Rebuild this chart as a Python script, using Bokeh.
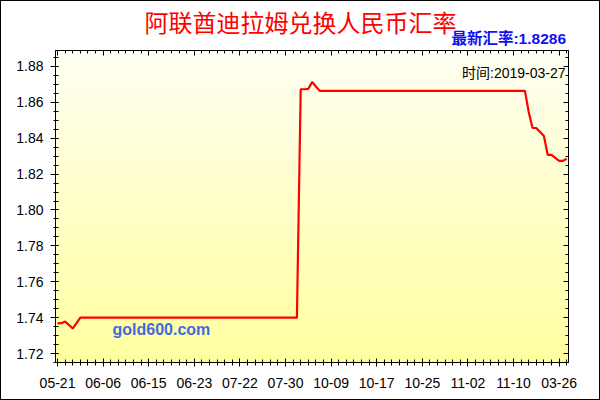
import numpy as np
from bokeh.plotting import figure
from bokeh.layouts import column
from bokeh.models import (FixedTicker, SingleIntervalTicker, LinearAxis, Label, Range1d,
                          PrintfTickFormatter)
from bokeh.embed import file_html
from bokeh.resources import INLINE
from bokeh.core.properties import value

# ---- data ----
tick_labels = ["05-21", "06-06", "06-15", "06-23", "07-22", "07-30",
               "10-09", "10-17", "10-25", "11-02", "11-10", "03-26"]
tick_index = [0, 12, 24, 36, 48, 60, 72, 84, 96, 108, 120, 132]

rates = [
    1.7368, 1.7369, 1.7378, 1.7360, 1.7339, 1.7370,
    1.7400, 1.7400, 1.7400, 1.7400, 1.7400, 1.7400, 1.7400, 1.7400, 1.7400, 1.7400,
    1.7400, 1.7400, 1.7400, 1.7400, 1.7400, 1.7400, 1.7400, 1.7400, 1.7400, 1.7400,
    1.7400, 1.7400, 1.7400, 1.7400, 1.7400, 1.7400, 1.7400, 1.7400, 1.7400, 1.7400,
    1.7400, 1.7400, 1.7400, 1.7400, 1.7400, 1.7400, 1.7400, 1.7400, 1.7400, 1.7400,
    1.7400, 1.7400, 1.7400, 1.7400, 1.7400, 1.7400, 1.7400, 1.7400, 1.7400, 1.7400,
    1.7400, 1.7400, 1.7400, 1.7400, 1.7400, 1.7400, 1.7400, 1.7400,
    1.8673, 1.8673, 1.8675, 1.8713, 1.8688,
    1.8664, 1.8664, 1.8664, 1.8664, 1.8664, 1.8664, 1.8664, 1.8664, 1.8664, 1.8664,
    1.8664, 1.8664, 1.8664, 1.8664, 1.8664, 1.8664, 1.8664, 1.8664, 1.8664, 1.8664,
    1.8664, 1.8664, 1.8664, 1.8664, 1.8664, 1.8664, 1.8664, 1.8664, 1.8664, 1.8664,
    1.8664, 1.8664, 1.8664, 1.8664, 1.8664, 1.8664, 1.8664, 1.8664, 1.8664, 1.8664,
    1.8664, 1.8664, 1.8664, 1.8664, 1.8664, 1.8664, 1.8664, 1.8664, 1.8664, 1.8664,
    1.8664, 1.8664, 1.8664, 1.8664, 1.8664,
    1.8546, 1.8457, 1.8457, 1.8435, 1.8413, 1.8307, 1.8307, 1.8290, 1.8274, 1.8274,
    1.8286,
]
idx = list(range(len(rates)))

title_text = "阿联酋迪拉姆兑换人民币汇率"
latest_text = "最新汇率:1.8286"
time_text = "时间:2019-03-27"
watermark = "gold600.com"

cjk = "'Liberation Sans', 'Noto Sans CJK SC'"

# ---- header (title area); its frame lines up with the chart frame ----
head = figure(frame_width=513, frame_height=49,
              min_border_left=54, min_border_right=31, min_border_top=0, min_border_bottom=0,
              x_range=Range1d(55, 568), y_range=Range1d(0, 49),
              output_backend="svg", toolbar_location=None,
              x_axis_type=None, y_axis_type=None)
head.outline_line_color = None
head.background_fill_color = "white"
head.border_fill_color = "white"
head.xgrid.visible = False
head.ygrid.visible = False
head.text(x=[300], y=[29], text=[title_text], text_align="center", text_baseline="middle",
          text_color="#FF0000", text_font=value("Noto Sans CJK SC"), text_font_size="24px")
head.text(x=[565.5], y=[11.7], text=[latest_text], text_align="right", text_baseline="middle",
          text_color="#1010F0", text_font=value(cjk), text_font_size="15.5px",
          text_font_style="bold")

# ---- main chart ----
x0, x1 = -0.53, 134.47
y0, y1 = 1.7150, 1.8889
p = figure(frame_width=513, frame_height=312,
           min_border_left=54, min_border_top=0, min_border_right=31, min_border_bottom=37,
           x_range=Range1d(x0, x1), y_range=Range1d(y0, y1),
           output_backend="svg", toolbar_location=None,
           x_axis_type=None, y_axis_type=None)
p.background_fill_color = "#FFFFF0"
p.border_fill_color = "white"
p.outline_line_color = "black"

# background vertical gradient
n = 100
t = np.linspace(0.0, 1.0, n)  # 0 bottom -> 1 top
img = np.zeros((n, 1), dtype=np.uint32)
view = img.view(dtype=np.uint8).reshape((n, 1, 4))
view[:, 0, 0] = 255
view[:, 0, 1] = 255
view[:, 0, 2] = (160 + (244 - 160) * t).astype(np.uint8)
view[:, 0, 3] = 255
p.image_rgba(image=[img], x=x0, y=y0, dw=x1 - x0, dh=y1 - y0, level="image")

label_font = "Liberation Sans"

xticker = FixedTicker(ticks=tick_index, minor_ticks=list(range(0, len(rates), 2)))
yticker = SingleIntervalTicker(interval=0.02, num_minor_ticks=4)

xb = LinearAxis(ticker=xticker)
xb.major_label_overrides = {i: s for i, s in zip(tick_index, tick_labels)}
xb.major_tick_in = 4
xb.major_tick_out = 4
xb.minor_tick_in = 3
xb.minor_tick_out = 3
xb.major_label_standoff = 11
p.add_layout(xb, "below")

yl = LinearAxis(ticker=yticker, formatter=PrintfTickFormatter(format="%.2f"))
yl.major_tick_in = 3
yl.major_tick_out = 5
yl.minor_tick_in = 3
yl.minor_tick_out = 2
yl.major_label_standoff = 7
p.add_layout(yl, "left")

xt = LinearAxis(ticker=xticker)
xt.major_tick_in = 5
xt.major_tick_out = 0
xt.minor_tick_in = 3
xt.minor_tick_out = 0
p.add_layout(xt, "above")

yr = LinearAxis(ticker=yticker)
yr.major_tick_in = 5
yr.major_tick_out = 0
yr.minor_tick_in = 3
yr.minor_tick_out = 0
p.add_layout(yr, "right")

for ax in (xb, yl, xt, yr):
    ax.axis_line_color = "black"
    ax.major_tick_line_color = "black"
    ax.minor_tick_line_color = "black"
    ax.major_label_text_color = "black"
    ax.major_label_text_font = label_font
for ax in (xb, yl):
    ax.major_label_text_font_size = "14px"
for ax in (xt, yr):
    ax.major_label_text_color = None
    ax.major_label_text_font_size = "0px"
    ax.major_label_standoff = 0

p.ygrid.ticker = yticker
p.ygrid.grid_line_color = "black"
p.ygrid.grid_line_dash = "1 7"
p.ygrid.grid_line_width = 1
p.xgrid.visible = False

p.line(idx, rates, line_color="red", line_width=2.2)

p.add_layout(Label(x=510, y=289.5, x_units="screen", y_units="screen", text=time_text,
                   text_align="right", text_baseline="middle", text_color="black",
                   text_font=cjk, text_font_size="14px"))
p.add_layout(Label(x=57, y=33, x_units="screen", y_units="screen", text=watermark,
                   text_align="left", text_baseline="middle", text_color="#4169E1",
                   text_font="Liberation Sans", text_font_size="16px", text_font_style="bold"))

page = column(head, p, spacing=0)
page.styles = {"border": "1px solid black"}

open("out.html", "w").write(file_html(page, INLINE))
